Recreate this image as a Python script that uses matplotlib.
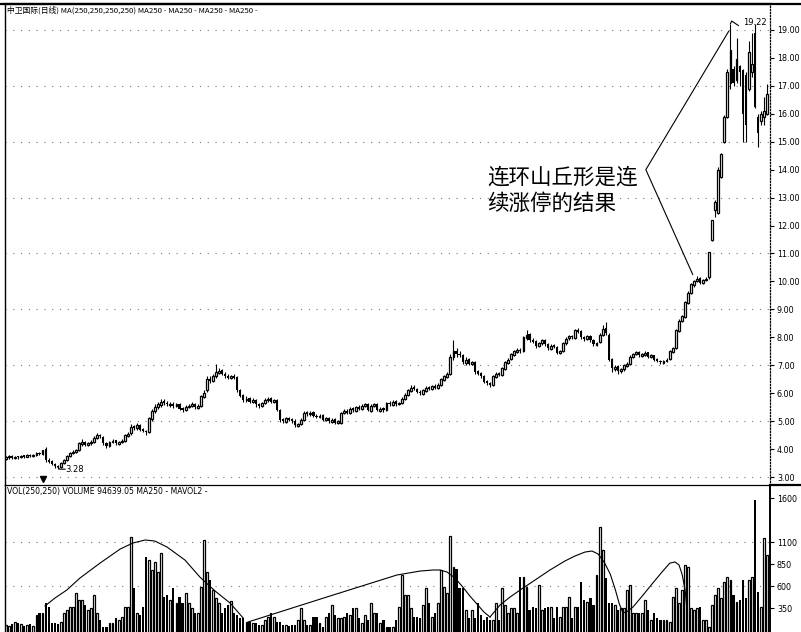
import matplotlib
matplotlib.use("Agg")
import matplotlib.pyplot as plt
from matplotlib.lines import Line2D

plt.rcParams['font.family'] = ['DejaVu Sans', 'Noto Sans CJK SC']

# ---- daily candles (price, yuan) ----
opens = [
    3.66, 3.70, 3.75, 3.68, 3.73, 3.70, 3.76, 3.72, 3.79, 3.74,
    3.80, 3.86, 3.82, 4.02, 3.62, 3.56, 3.46, 3.40, 3.36, 3.50,
    3.62, 3.74, 3.86, 3.90, 3.98, 4.18, 4.26, 4.14, 4.20, 4.26,
    4.40, 4.52, 4.44, 4.22, 4.10, 4.24, 4.32, 4.18, 4.25, 4.30,
    4.48, 4.56, 4.82, 4.74, 4.86, 4.72, 4.66, 4.62, 5.08, 5.36,
    5.50, 5.58, 5.72, 5.66, 5.58, 5.62, 5.54, 5.62, 5.46, 5.40,
    5.50, 5.54, 5.62, 5.48, 5.55, 5.88, 6.10, 6.52, 6.44, 6.60,
    6.74, 6.82, 6.70, 6.62, 6.54, 6.62, 6.58, 6.12, 5.92, 5.74,
    5.82, 5.68, 5.76, 5.62, 5.54, 5.64, 5.74, 5.82, 5.68, 5.76,
    5.40, 5.06, 4.98, 5.12, 5.06, 5.02, 4.84, 4.90, 5.04, 5.32,
    5.24, 5.32, 5.20, 5.14, 5.22, 5.04, 5.12, 4.98, 5.06, 4.94,
    4.95, 5.28, 5.36, 5.30, 5.46, 5.38, 5.52, 5.44, 5.54, 5.62,
    5.38, 5.54, 5.62, 5.38, 5.46, 5.40, 5.66, 5.58, 5.72, 5.60,
    5.64, 5.78, 5.94, 6.08, 6.22, 6.16, 6.06, 5.98, 6.08, 6.22,
    6.14, 6.27, 6.18, 6.30, 6.48, 6.58, 6.70, 7.28, 7.52, 7.42,
    7.36, 7.08, 7.22, 7.04, 7.12, 6.78, 6.72, 6.62, 6.42, 6.36,
    6.30, 6.58, 6.72, 6.64, 6.88, 7.08, 7.22, 7.38, 7.48, 7.56,
    7.50, 7.98, 8.12, 7.92, 7.86, 7.68, 7.78, 7.92, 7.76, 7.58,
    7.72, 7.66, 7.44, 7.52, 7.78, 7.96, 8.06, 7.98, 8.26, 8.22,
    8.02, 7.94, 8.06, 7.92, 7.74, 7.82, 8.08, 8.32, 8.10, 7.22,
    6.88, 6.96, 6.78, 6.86, 6.98, 7.06, 7.28, 7.42, 7.46, 7.34,
    7.38, 7.46, 7.28, 7.36, 7.22, 7.16, 7.08, 7.14, 7.22, 7.48,
    7.62, 8.22, 8.58, 8.74, 9.22, 9.58, 9.88, 10.02, 10.12, 9.94,
    10.04, 10.15, 11.50, 12.55, 12.45, 13.75, 15.00, 15.90, 17.10, 17.60,
    17.20, 17.70, 17.55, 17.40, 16.90, 17.50, 18.90, 15.90, 15.75, 15.90,
    16.00,
]
closes = [
    3.70, 3.75, 3.68, 3.72, 3.70, 3.76, 3.72, 3.78, 3.75, 3.80,
    3.85, 3.82, 3.95, 3.60, 3.55, 3.45, 3.38, 3.36, 3.50, 3.62,
    3.75, 3.85, 3.90, 3.95, 4.20, 4.25, 4.15, 4.20, 4.25, 4.40,
    4.50, 4.45, 4.20, 4.10, 4.25, 4.30, 4.20, 4.25, 4.30, 4.50,
    4.55, 4.80, 4.75, 4.85, 4.70, 4.65, 4.60, 5.10, 5.35, 5.50,
    5.60, 5.70, 5.65, 5.60, 5.60, 5.55, 5.60, 5.45, 5.40, 5.50,
    5.55, 5.60, 5.50, 5.55, 5.90, 6.00, 6.50, 6.45, 6.60, 6.75,
    6.80, 6.70, 6.60, 6.55, 6.60, 6.55, 6.10, 5.90, 5.75, 5.80,
    5.70, 5.75, 5.60, 5.55, 5.65, 5.75, 5.80, 5.70, 5.75, 5.40,
    5.05, 5.00, 5.10, 5.05, 5.00, 4.85, 4.90, 5.05, 5.30, 5.25,
    5.30, 5.20, 5.15, 5.20, 5.05, 5.10, 5.00, 5.05, 4.95, 5.00,
    5.30, 5.35, 5.30, 5.45, 5.40, 5.50, 5.45, 5.55, 5.60, 5.40,
    5.55, 5.60, 5.40, 5.45, 5.40, 5.65, 5.60, 5.70, 5.60, 5.65,
    5.80, 5.95, 6.10, 6.20, 6.15, 6.05, 6.00, 6.10, 6.20, 6.15,
    6.25, 6.20, 6.30, 6.50, 6.60, 6.70, 7.30, 7.50, 7.40, 7.35,
    7.10, 7.20, 7.05, 7.10, 6.75, 6.70, 6.60, 6.40, 6.35, 6.30,
    6.60, 6.70, 6.65, 6.90, 7.10, 7.20, 7.40, 7.50, 7.55, 7.50,
    8.00, 8.10, 7.90, 7.85, 7.70, 7.80, 7.90, 7.75, 7.60, 7.70,
    7.65, 7.45, 7.50, 7.80, 7.95, 8.05, 8.00, 8.25, 8.20, 8.00,
    7.95, 8.05, 7.90, 7.75, 7.80, 8.10, 8.30, 8.15, 7.20, 6.90,
    6.95, 6.80, 6.85, 7.00, 7.05, 7.30, 7.40, 7.45, 7.35, 7.40,
    7.45, 7.30, 7.35, 7.20, 7.15, 7.10, 7.15, 7.20, 7.50, 7.60,
    8.25, 8.60, 8.75, 9.25, 9.60, 9.90, 10.00, 10.10, 9.95, 10.05,
    10.10, 11.05, 12.20, 12.85, 14.00, 14.55, 15.90, 17.50, 18.30, 17.10,
    17.95, 17.50, 16.00, 15.60, 18.20, 17.80, 16.25, 15.30, 16.00, 16.10,
    16.70,
]
highs = [
    3.74, 3.80, 3.78, 3.76, 3.75, 3.80, 3.80, 3.82, 3.82, 3.84,
    3.90, 3.90, 3.98, 4.08, 3.68, 3.62, 3.50, 3.44, 3.54, 3.66,
    3.80, 3.90, 3.95, 4.00, 4.25, 4.35, 4.30, 4.25, 4.32, 4.48,
    4.58, 4.55, 4.48, 4.25, 4.30, 4.36, 4.34, 4.30, 4.35, 4.55,
    4.62, 4.90, 4.85, 4.92, 4.90, 4.75, 4.70, 5.15, 5.45, 5.60,
    5.68, 5.78, 5.80, 5.72, 5.68, 5.68, 5.66, 5.66, 5.50, 5.56,
    5.62, 5.68, 5.66, 5.60, 5.95, 6.10, 6.60, 6.62, 6.70, 7.05,
    6.90, 6.88, 6.76, 6.68, 6.66, 6.68, 6.62, 6.15, 5.98, 5.90,
    5.86, 5.82, 5.80, 5.66, 5.70, 5.82, 5.86, 5.86, 5.80, 5.80,
    5.45, 5.12, 5.15, 5.16, 5.10, 5.06, 4.95, 5.10, 5.36, 5.38,
    5.36, 5.36, 5.24, 5.26, 5.26, 5.15, 5.15, 5.10, 5.10, 5.04,
    5.34, 5.42, 5.42, 5.50, 5.50, 5.55, 5.56, 5.60, 5.66, 5.66,
    5.60, 5.65, 5.65, 5.50, 5.50, 5.70, 5.72, 5.76, 5.76, 5.70,
    5.86, 6.00, 6.15, 6.30, 6.28, 6.20, 6.10, 6.15, 6.25, 6.26,
    6.30, 6.32, 6.36, 6.55, 6.66, 6.75, 7.40, 7.90, 7.60, 7.50,
    7.40, 7.28, 7.26, 7.15, 7.15, 6.82, 6.76, 6.66, 6.46, 6.40,
    6.65, 6.76, 6.76, 6.95, 7.15, 7.25, 7.45, 7.55, 7.62, 7.60,
    8.05, 8.25, 8.15, 7.98, 7.90, 7.85, 7.95, 7.95, 7.80, 7.75,
    7.76, 7.70, 7.56, 7.85, 8.00, 8.10, 8.10, 8.30, 8.32, 8.25,
    8.06, 8.10, 8.10, 7.95, 7.85, 8.15, 8.45, 8.55, 8.15, 7.25,
    7.00, 7.00, 6.90, 7.05, 7.10, 7.35, 7.45, 7.50, 7.50, 7.45,
    7.50, 7.48, 7.40, 7.38, 7.25, 7.20, 7.18, 7.25, 7.55, 7.65,
    8.30, 8.65, 8.80, 9.30, 9.65, 9.95, 10.05, 10.20, 10.15, 10.10,
    10.15, 11.05, 12.20, 12.90, 14.10, 14.60, 15.95, 17.60, 19.22, 17.70,
    18.70, 17.75, 17.60, 17.50, 18.60, 18.90, 19.20, 16.00, 16.10, 16.60,
    17.05,
]
lows = [
    3.62, 3.66, 3.64, 3.64, 3.66, 3.68, 3.68, 3.70, 3.70, 3.72,
    3.76, 3.78, 3.80, 3.55, 3.50, 3.42, 3.34, 3.28, 3.34, 3.46,
    3.58, 3.70, 3.82, 3.86, 3.94, 4.12, 4.10, 4.10, 4.16, 4.22,
    4.36, 4.40, 4.16, 4.04, 4.06, 4.20, 4.16, 4.14, 4.20, 4.26,
    4.44, 4.50, 4.68, 4.70, 4.64, 4.60, 4.52, 4.58, 5.02, 5.30,
    5.44, 5.52, 5.58, 5.54, 5.52, 5.48, 5.50, 5.40, 5.34, 5.36,
    5.46, 5.50, 5.44, 5.44, 5.50, 5.84, 6.05, 6.38, 6.40, 6.55,
    6.70, 6.64, 6.55, 6.50, 6.50, 6.50, 6.05, 5.85, 5.68, 5.68,
    5.64, 5.64, 5.52, 5.48, 5.50, 5.60, 5.70, 5.64, 5.64, 5.35,
    4.98, 4.94, 4.94, 5.00, 4.92, 4.78, 4.80, 4.86, 5.00, 5.18,
    5.20, 5.14, 5.10, 5.10, 5.00, 5.00, 4.95, 4.94, 4.88, 4.90,
    4.90, 5.24, 5.24, 5.26, 5.34, 5.34, 5.40, 5.40, 5.50, 5.36,
    5.34, 5.50, 5.35, 5.34, 5.34, 5.36, 5.54, 5.54, 5.55, 5.56,
    5.60, 5.74, 5.90, 6.04, 6.10, 6.00, 5.95, 5.95, 6.04, 6.10,
    6.10, 6.15, 6.14, 6.26, 6.44, 6.54, 6.66, 7.20, 7.30, 7.28,
    7.05, 7.02, 7.00, 7.00, 6.70, 6.64, 6.56, 6.35, 6.30, 6.22,
    6.26, 6.54, 6.60, 6.60, 6.84, 7.05, 7.18, 7.34, 7.44, 7.45,
    7.46, 7.92, 7.85, 7.80, 7.62, 7.64, 7.74, 7.70, 7.55, 7.55,
    7.60, 7.40, 7.40, 7.48, 7.74, 7.90, 7.94, 7.94, 8.14, 7.95,
    7.88, 7.90, 7.85, 7.70, 7.70, 7.78, 8.04, 8.10, 7.15, 6.75,
    6.80, 6.70, 6.72, 6.80, 6.95, 7.02, 7.25, 7.38, 7.30, 7.30,
    7.34, 7.26, 7.25, 7.15, 7.10, 7.05, 7.05, 7.10, 7.18, 7.44,
    7.58, 8.18, 8.55, 8.70, 9.18, 9.55, 9.80, 9.98, 9.90, 9.90,
    10.00, 10.10, 11.45, 12.30, 12.40, 13.70, 14.95, 15.85, 16.90, 17.00,
    17.10, 17.00, 15.00, 15.00, 16.80, 17.30, 16.20, 14.80, 15.60, 15.60,
    15.95,
]
# daily volume (10k shares)
volumes = [
    160, 150, 170, 190, 185, 165, 150, 160, 170, 150,
    270, 300, 300, 410, 360, 180, 180, 170, 190, 295,
    330, 360, 360, 520, 440, 440, 385, 330, 350, 500,
    295, 215, 140, 140, 180, 180, 240, 215, 250, 360,
    360, 1160, 580, 300, 270, 360, 930, 900, 780, 880,
    760, 980, 480, 500, 440, 580, 410, 480, 410, 520,
    410, 350, 295, 295, 590, 1125, 760, 670, 560, 465,
    410, 300, 350, 385, 430, 300, 270, 240, 240, 190,
    190, 180, 180, 160, 160, 215, 250, 300, 250, 190,
    190, 160, 160, 150, 160, 160, 215, 350, 215, 160,
    160, 250, 250, 180, 140, 250, 295, 385, 270, 240,
    240, 250, 300, 270, 350, 350, 240, 180, 270, 215,
    410, 295, 295, 180, 215, 140, 140, 140, 215, 360,
    730, 500, 500, 350, 250, 250, 240, 385, 580, 410,
    250, 300, 410, 780, 590, 520, 1170, 820, 800, 580,
    580, 330, 240, 330, 240, 410, 270, 215, 250, 215,
    215, 410, 215, 580, 385, 300, 350, 350, 295, 700,
    700, 590, 330, 360, 350, 610, 330, 350, 360, 360,
    240, 360, 250, 360, 360, 480, 240, 360, 360, 650,
    440, 420, 465, 385, 730, 1270, 1010, 690, 410, 410,
    385, 330, 350, 350, 560, 610, 295, 300, 300, 295,
    440, 330, 215, 295, 240, 215, 215, 215, 190, 480,
    580, 410, 560, 840, 820, 350, 330, 350, 360, 215,
    215, 140, 385, 500, 580, 465, 650, 700, 670, 500,
    420, 440, 670, 465, 670, 700, 1580, 530, 360, 1150,
    950,
]

# hand-drawn "hill" curves over the volume bars: (day index, volume)
hill_days = [
    [12.8, 16.1, 20.0, 24.3, 30.9, 37.5, 41.7, 45.7, 48.9, 52.9,
     58.8, 63.7, 68.7, 73.6, 77.9],
    [79.5, 106.4, 128.4, 136.0, 140.3, 142.6, 144.9, 147.5, 149.8,
     152.4, 154.7, 157.0, 159.0],
    [159.0, 162.3, 165.6, 168.9, 173.8, 178.7, 183.6, 186.9, 190.2,
     192.5, 194.5, 196.5, 198.5, 200.2, 201.5, 202.7],
    [202.7, 204.3, 206.0, 209.3, 212.5, 215.5, 218.1, 219.8, 221.1,
     222.1, 223.1, 223.7],
]
hill_vols = [
    [375, 466, 557, 693, 863, 1022, 1091, 1125, 1113, 1045,
     897, 704, 545, 409, 239],
    [193, 488, 727, 772, 784, 784, 761, 693, 602, 488, 398, 307, 250],
    [250, 386, 477, 557, 670, 784, 886, 943, 988, 1000, 966, 875,
     738, 557, 398, 295],
    [295, 318, 364, 500, 636, 761, 863, 875, 841, 738, 557, 330],
]

price_ticks = [3, 4, 5, 6, 7, 8, 9, 10, 11, 12, 13, 14, 15, 16, 17, 18, 19]
price_grid = [3, 5, 7, 9, 11, 13, 15, 17, 19]
vol_ticks = [350, 600, 850, 1100, 1600]
vol_grid = [600, 1100]

title_text = "中卫国际(日线) MA(250,250,250,250) MA250 - MA250 - MA250 - MA250 -"
vol_text = "VOL(250,250) VOLUME 94639.05 MA250 - MAVOL2 -"
note_text = "连环山丘形是连\n续涨停的结果"

W, H = 801, 632
fig = plt.figure(figsize=(W / 100, H / 100), dpi=100)
fig.patch.set_facecolor("white")

ax = fig.add_axes([5 / W, (H - 485) / H, 765 / W, 481 / H])
axv = fig.add_axes([5 / W, (H - 639) / H, 765 / W, 154 / H], sharex=ax)

n = len(closes)
days = list(range(n))
up = [c >= o for o, c in zip(opens, closes)]

# candles: hollow when up, solid when down
ax.vlines(days, lows, highs, color="black", lw=0.8, zorder=2)
for i in days:
    lo = min(opens[i], closes[i])
    hgt = max(abs(closes[i] - opens[i]), 0.05)
    if up[i]:
        ax.bar(i, hgt, bottom=lo, width=0.62, facecolor="white",
               edgecolor="black", lw=0.9, zorder=3)
    else:
        ax.bar(i, hgt, bottom=lo, width=0.7, color="black", lw=0, zorder=3)

for g in price_grid:
    ax.axhline(g, color="#777777", lw=0.8, ls=(0, (1, 6)), zorder=1)

ax.set_xlim(-0.33, 250.99)
ax.set_ylim(2.714, 19.93)
ax.yaxis.tick_right()
ax.set_yticks(price_ticks)
ax.set_yticklabels([f"{t:.2f}" for t in price_ticks])
ax.tick_params(axis="y", direction="out", length=3, width=0.8, labelsize=5.8, pad=2)
ax.tick_params(axis="x", bottom=False, labelbottom=False)
ax.spines["bottom"].set_visible(False)
ax.spines["top"].set_linewidth(1.6)
ax.spines["left"].set_linewidth(1.0)
ax.spines["right"].set_linestyle((0, (1, 1.5)))
ax.spines["right"].set_linewidth(0.9)

ax.text(0.002, 0.995, title_text, transform=ax.transAxes, fontsize=5.6,
        va="top", ha="left", family=["Noto Sans CJK SC", "DejaVu Sans"])

# max / min markers
ax.plot([238, 238.4, 240.6], [19.22, 19.32, 19.16], color="black", lw=0.8)
ax.text(242.0, 19.27, f"{max(highs):.2f}", fontsize=6, va="center", ha="left")
lo_i = lows.index(min(lows))
ax.plot([lo_i, lo_i + 0.6, lo_i + 2.4], [min(lows) + 0.08, min(lows), min(lows)],
        color="black", lw=0.8)
ax.text(lo_i + 2.6, min(lows), f"{min(lows):.2f}", fontsize=6, va="center", ha="left")
ax.plot([12.2], [2.93], marker="v", ms=4, color="black", clip_on=False)

# annotation
ax.plot([237.4, 210.2, 225.6], [18.95, 14.0, 10.25], color="black", lw=0.8)
ax.text(158, 14.12, note_text, fontsize=15.5, va="top", ha="left", linespacing=1.25,
        family=["Noto Sans CJK SC", "DejaVu Sans"])

# volume
for i in days:
    if up[i]:
        axv.bar(i, volumes[i], width=0.62, facecolor="white", edgecolor="black", lw=0.9)
    else:
        axv.bar(i, volumes[i], width=0.7, color="black", lw=0)
for hx, hv in zip(hill_days, hill_vols):
    axv.plot(hx, hv, color="black", lw=0.8)
for g in vol_grid:
    axv.axhline(g, color="#777777", lw=0.8, ls=(0, (1, 6)), zorder=0)

axv.set_ylim(0, 1750)
axv.yaxis.tick_right()
axv.set_yticks(vol_ticks)
axv.set_yticklabels([str(t) for t in vol_ticks])
axv.tick_params(axis="y", direction="out", length=3, width=0.8, labelsize=5.8, pad=2)
axv.tick_params(axis="x", bottom=False, labelbottom=False)
axv.spines["top"].set_linestyle((0, (1, 1)))
axv.spines["top"].set_linewidth(0.9)
axv.spines["right"].set_linewidth(1.4)
axv.spines["left"].set_linewidth(1.0)
axv.text(0.002, 0.985, vol_text, transform=axv.transAxes, fontsize=5.6,
         va="top", ha="left")

# frame pieces on the label strip
fig.add_artist(Line2D([770 / W, 1.0], [(H - 485) / H] * 2, color="black", lw=1.6))
fig.add_artist(Line2D([0, 1.0], [(H - 4) / H] * 2, color="black", lw=1.6))

fig.savefig("out.png", dpi=100, facecolor="white")
